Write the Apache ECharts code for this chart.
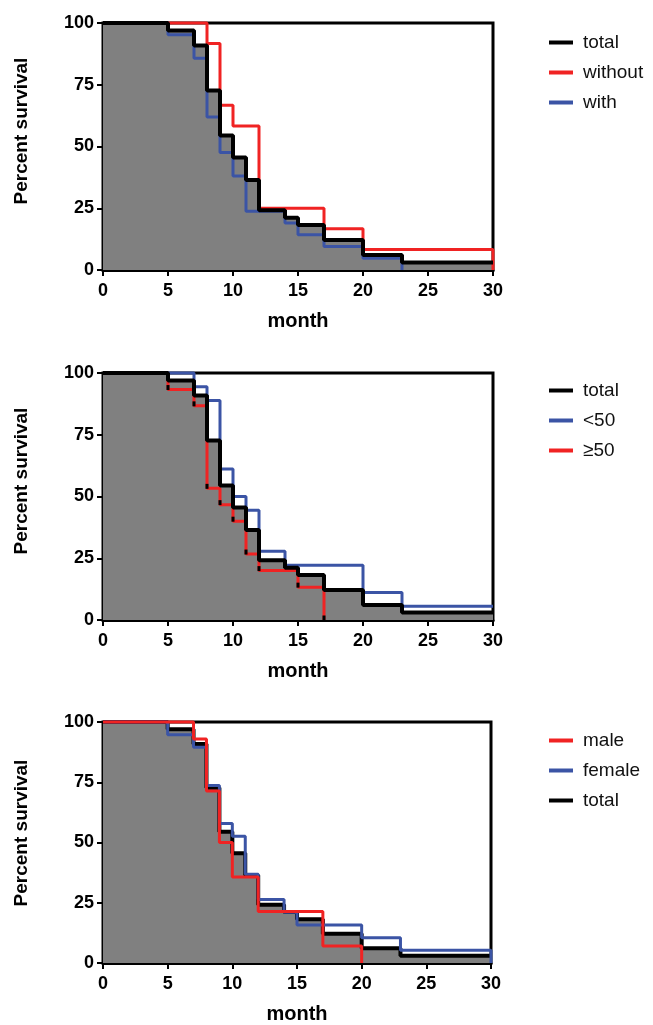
<!DOCTYPE html>
<html>
<head>
<meta charset="utf-8">
<script src="https://cdn.jsdelivr.net/npm/echarts@6/dist/echarts.min.js"></script>
<style>
  html, body { margin: 0; padding: 0; background: #fff; }
  #chart { width: 653px; height: 1025px; }
</style>
</head>
<body>
<div id="chart"></div>
<script>
// total (same curve in all three panels)
const totalMonths = [0, 5, 7, 8, 9, 10, 11, 12, 14, 15, 17, 20, 23, 30];
const totalSurv = [100, 97, 90.9, 72.7, 54.5, 45.5, 36.4, 24.2, 21.2, 18.2, 12.1, 6.1, 3, 3];

// panel 1
const withoutMonths = [0, 8, 9, 10, 12, 17, 20, 30];
const withoutSurv = [100, 91.7, 66.7, 58.3, 25, 16.7, 8.3, 0];
const withMonths = [0, 5, 7, 8, 9, 10, 11, 14, 15, 17, 20, 23];
const withSurv = [100, 95.2, 85.7, 61.9, 47.6, 38.1, 23.8, 19, 14.3, 9.5, 4.8, 0];

// panel 2
const under50Months = [0, 7, 8, 9, 10, 11, 12, 14, 20, 23, 30];
const under50Surv = [100, 94.4, 88.9, 61.1, 50, 44.4, 27.8, 22.2, 11.1, 5.6, 5.6];
const over50Months = [0, 5, 7, 8, 9, 10, 11, 12, 15, 17];
const over50Surv = [100, 93.3, 86.7, 53.3, 46.7, 40, 26.7, 20, 13.3, 0];

// panel 3
const maleMonths = [0, 7, 8, 9, 10, 12, 17, 20];
const maleSurv = [100, 92.9, 71.4, 50, 35.7, 21.4, 7.1, 0];
const femaleMonths = [0, 5, 7, 8, 9, 10, 11, 12, 14, 15, 20, 23, 30];
const femaleSurv = [100, 94.7, 89.5, 73.7, 57.9, 52.6, 36.8, 26.3, 21.1, 15.8, 10.5, 5.3, 0];

const legend1 = ["total", "without", "with"];
const legend2 = ["total", "<50", "≥50"];
const legend3 = ["male", "female", "total"];

const RED = "#f02323";
const BLUE = "#3b54a5";
const FONT = "Liberation Sans, Arial, sans-serif";

function pts(months, surv) {
  return months.map((m, i) => [m, surv[i]]);
}

function km(name, idx, months, surv, color, width, z, ticks) {
  let data = pts(months, surv);
  if (ticks) {
    // small black censor marks at each step
    data = data.map((p, i) => i === 0 ? { value: p, symbol: "none" } : { value: p });
  }
  return {
    name: name,
    type: "line",
    step: "end",
    xAxisIndex: idx,
    yAxisIndex: idx,
    data: data,
    clip: false,
    symbol: ticks ? "rect" : "none",
    symbolSize: [3, 5],
    symbolOffset: [0, -2],
    showSymbol: !!ticks,
    showAllSymbol: true,
    lineStyle: { color: color, width: width },
    itemStyle: { color: ticks ? "#000" : color },
    z: z,
    animation: false,
    silent: true
  };
}

function fill(idx) {
  return {
    name: "area" + idx,
    type: "line",
    step: "end",
    xAxisIndex: idx,
    yAxisIndex: idx,
    data: pts(totalMonths, totalSurv),
    symbol: "none",
    lineStyle: { width: 0 },
    areaStyle: { color: "#808080", opacity: 1 },
    z: 1,
    animation: false,
    silent: true
  };
}

const tops = [23, 373, 722];
const widths = [390, 390, 388];

const grids = tops.map((t, i) => ({
  left: 103, top: t, width: widths[i], height: 247,
  show: true, borderColor: "#000", borderWidth: 3
}));

const xAxes = tops.map((t, i) => ({
  type: "value", gridIndex: i, min: 0, max: 30, interval: 5,
  name: "month", nameLocation: "middle", nameGap: 41,
  nameTextStyle: { fontSize: 20, fontWeight: "bold", color: "#000", fontFamily: FONT },
  axisLine: { show: true, lineStyle: { color: "#000", width: 3 } },
  axisTick: { show: true, length: 6, lineStyle: { color: "#000", width: 2 } },
  axisLabel: { fontSize: 18, fontWeight: "bold", color: "#000", margin: 12, fontFamily: FONT },
  splitLine: { show: false }
}));

const yAxes = tops.map((t, i) => ({
  type: "value", gridIndex: i, min: 0, max: 100, interval: 25,
  axisLine: { show: true, lineStyle: { color: "#000", width: 3 } },
  axisTick: { show: true, length: 6, lineStyle: { color: "#000", width: 2 } },
  axisLabel: { fontSize: 18, fontWeight: "bold", color: "#000", margin: 9, fontFamily: FONT },
  splitLine: { show: false }
}));

function legend(top, names, colors) {
  return {
    orient: "vertical", left: 544, top: top,
    icon: "rect", itemWidth: 24, itemHeight: 4, itemGap: 11,
    selectedMode: false,
    data: names.map((n, i) => ({ name: n, itemStyle: { color: colors[i] } })),
    textStyle: { fontSize: 19, color: "#111", fontFamily: FONT, padding: [0, 0, 0, 5] }
  };
}

const yNames = [131, 481, 833].map(y => ({
  type: "text", x: 22, y: y, rotation: Math.PI / 2,
  style: {
    text: "Percent survival", fontSize: 19, fontWeight: "bold", fill: "#000",
    fontFamily: FONT, align: "center", verticalAlign: "middle"
  }
}));

const chart = echarts.init(document.getElementById("chart"), null, { renderer: "canvas" });
chart.setOption({
  backgroundColor: "#fff",
  animation: false,
  grid: grids,
  xAxis: xAxes,
  yAxis: yAxes,
  legend: [
    legend(28, legend1, ["#000", RED, BLUE]),
    legend(376, legend2, ["#000", BLUE, RED]),
    legend(726, legend3, [RED, BLUE, "#000"])
  ],
  graphic: yNames,
  series: [
    fill(0),
    km("with", 0, withMonths, withSurv, BLUE, 3, 2),
    km("without", 0, withoutMonths, withoutSurv, RED, 3, 3),
    km("total", 0, totalMonths, totalSurv, "#000", 4, 4),

    fill(1),
    km("≥50", 1, over50Months, over50Surv, RED, 3, 2, true),
    km("<50", 1, under50Months, under50Surv, BLUE, 3, 3),
    km("total", 1, totalMonths, totalSurv, "#000", 4, 4),

    fill(2),
    km("total", 2, totalMonths, totalSurv, "#000", 4, 2),
    km("female", 2, femaleMonths, femaleSurv, BLUE, 3, 3),
    km("male", 2, maleMonths, maleSurv, RED, 3, 4)
  ]
});
</script>
</body>
</html>
